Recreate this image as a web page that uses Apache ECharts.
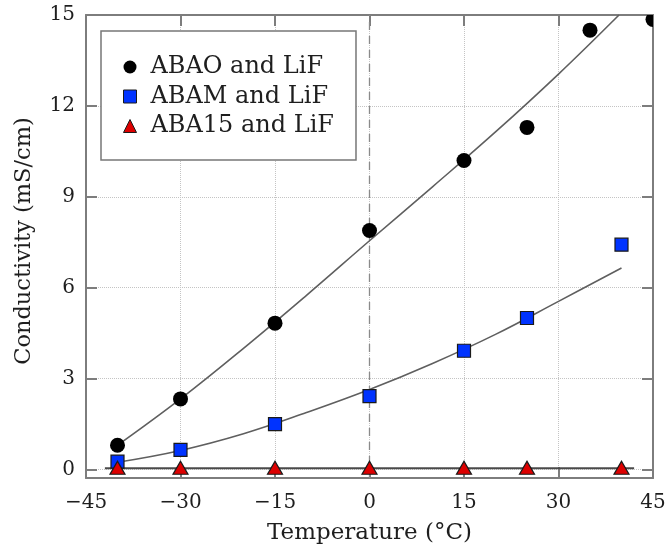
<!DOCTYPE html>
<html>
<head>
<meta charset="utf-8">
<script src="https://cdn.jsdelivr.net/npm/echarts@6/dist/echarts.min.js"></script>
<style>html,body{margin:0;padding:0;background:#fff}#c{width:668px;height:548px}</style>
</head>
<body>
<div id="c"></div>
<script>
// ---- data ----
const xTicks = [-45, -30, -15, 0, 15, 30, 45];
const yTicks = [0, 3, 6, 9, 12, 15];

const abaoX = [-40, -30, -15, 0, 15, 25, 35, 45];
const abaoY = [0.8, 2.33, 4.83, 7.89, 10.2, 11.29, 14.5, 14.85];

const abamX = [-40, -30, -15, 0, 15, 25, 40];
const abamY = [0.26, 0.65, 1.5, 2.42, 3.92, 5.0, 7.42];

const aba15X = [-40, -30, -15, 0, 15, 25, 40];
const aba15Y = [0.06, 0.06, 0.06, 0.06, 0.06, 0.06, 0.06];

const abaoFitX = [-40, -30, -20, -10, 0, 10, 20, 30, 39.6];
const abaoFitY = [0.8, 2.33, 4.0, 5.75, 7.55, 9.33, 11.14, 13.05, 15.0];

const abamFitX = [-40, -30, -20, -10, 0, 10, 20, 30, 40];
const abamFitY = [0.24, 0.63, 1.18, 1.88, 2.64, 3.5, 4.46, 5.55, 6.65];

const aba15FitX = [-42, 42];
const aba15FitY = [0.04, 0.04];

const names = ['ABAO and LiF', 'ABAM and LiF', 'ABA15 and LiF'];

const zip = (xs, ys) => xs.map((x, i) => [x, ys[i]]);
const FONT = 'DejaVu Serif';
const TXT = '#1e1e1e';
const FRAME = '#7d7d7d';
const minus = v => String(v).replace('-', '\u2212');

const chart = echarts.init(document.getElementById('c'));
chart.setOption({
  animation: false,
  backgroundColor: '#fff',
  grid: { left: 86, right: 15, top: 15, bottom: 70, containLabel: false, outerBoundsMode: 'none' },
  legend: {
    orient: 'vertical',
    left: 101, top: 31,
    padding: [24, 22, 22, 22],
    itemGap: 5.5,
    itemWidth: 13, itemHeight: 13,
    backgroundColor: '#fff',
    borderColor: '#777', borderWidth: 1.5, borderRadius: 0,
    textStyle: { fontFamily: FONT, fontSize: 24, color: TXT, lineHeight: 24, padding: [0, 0, 0, 9] },
    data: [
      { name: names[0], icon: 'circle', itemStyle: { color: '#000', borderWidth: 0 } },
      { name: names[1], icon: 'rect', itemStyle: { color: '#0033ff', borderColor: '#1a1a1a', borderWidth: 1 } },
      { name: names[2], icon: 'triangle', itemStyle: { color: '#dd0000', borderColor: '#1a1a1a', borderWidth: 1 } }
    ]
  },
  xAxis: [{
    type: 'value', min: -45, max: 45, interval: 15,
    name: 'Temperature (°C)', nameLocation: 'middle', nameGap: 44,
    nameTextStyle: { fontFamily: FONT, fontSize: 23, color: TXT },
    axisLine: { show: true, onZero: false, lineStyle: { color: FRAME, width: 2 } },
    axisTick: { show: true, inside: true, length: 11, lineStyle: { color: FRAME, width: 2 } },
    axisLabel: { fontFamily: FONT, fontSize: 20, color: TXT, margin: 15, formatter: minus },
    splitLine: { show: true, lineStyle: { color: '#c4c4c4', type: 'dotted', width: 1 } }
  }, {
    type: 'value', min: -45, max: 45, interval: 15, position: 'top',
    axisLine: { show: true, onZero: false, lineStyle: { color: FRAME, width: 2 } },
    axisTick: { show: true, inside: true, length: 11, lineStyle: { color: FRAME, width: 2 } },
    axisLabel: { show: false },
    splitLine: { show: false }
  }],
  yAxis: [{
    type: 'value', min: -0.28, max: 15,
    name: 'Conductivity (mS/cm)', nameLocation: 'middle', nameGap: 50,
    nameTextStyle: { fontFamily: FONT, fontSize: 22.5, color: TXT, padding: [0, 0, 0, 11] },
    axisLine: { show: true, onZero: false, lineStyle: { color: FRAME, width: 2 } },
    axisTick: { show: true, inside: true, length: 11, customValues: yTicks, lineStyle: { color: FRAME, width: 2 } },
    axisLabel: { fontFamily: FONT, fontSize: 20, color: TXT, margin: 11, customValues: yTicks },
    splitLine: { show: true, lineStyle: { color: '#c4c4c4', type: 'dotted', width: 1 } }
  }, {
    type: 'value', min: -0.28, max: 15, position: 'right',
    axisLine: { show: true, onZero: false, lineStyle: { color: FRAME, width: 2 } },
    axisTick: { show: true, inside: true, length: 11, customValues: yTicks, lineStyle: { color: FRAME, width: 2 } },
    axisLabel: { show: false, customValues: yTicks },
    splitLine: { show: false }
  }],
  series: [
    {
      type: 'line', name: 'fit0', data: zip(abaoFitX, abaoFitY), smooth: 0.4,
      showSymbol: false, symbol: 'none', lineStyle: { color: '#5f5f5f', width: 1.6 }, z: 3,
      markLine: {
        silent: true, symbol: 'none', label: { show: false },
        lineStyle: { color: '#8a8a8a', type: [8, 6], width: 1.3 },
        data: [{ xAxis: 0 }]
      }
    },
    {
      type: 'line', name: 'fit1', data: zip(abamFitX, abamFitY), smooth: 0.4,
      showSymbol: false, symbol: 'none', lineStyle: { color: '#5f5f5f', width: 1.6 }, z: 3
    },
    {
      type: 'line', name: 'fit2', data: zip(aba15FitX, aba15FitY),
      showSymbol: false, symbol: 'none', lineStyle: { color: '#4a4a4a', width: 2 }, z: 3
    },
    {
      type: 'custom', name: names[0], z: 5,
      itemStyle: { color: '#000' },
      data: zip(abaoX, abaoY),
      renderItem: (params, api) => {
        const p = api.coord([api.value(0), api.value(1)]);
        const cs = params.coordSys;
        return {
          type: 'group',
          clipPath: { type: 'rect', shape: { x: cs.x, y: cs.y, width: cs.width, height: cs.height } },
          children: [{ type: 'circle', shape: { cx: p[0], cy: p[1], r: 7.5 }, style: { fill: '#000' } }]
        };
      }
    },
    {
      type: 'scatter', name: names[1], data: zip(abamX, abamY), symbol: 'rect', symbolSize: 13, z: 6,
      itemStyle: { color: '#0033ff', borderColor: '#1a1a1a', borderWidth: 1.2, opacity: 1 }
    },
    {
      type: 'scatter', name: names[2], data: zip(aba15X, aba15Y), symbol: 'triangle', symbolSize: [15, 13], z: 7,
      itemStyle: { color: '#dd0000', borderColor: '#1a1a1a', borderWidth: 1.2, opacity: 1 }
    }
  ]
});
</script>
</body>
</html>
